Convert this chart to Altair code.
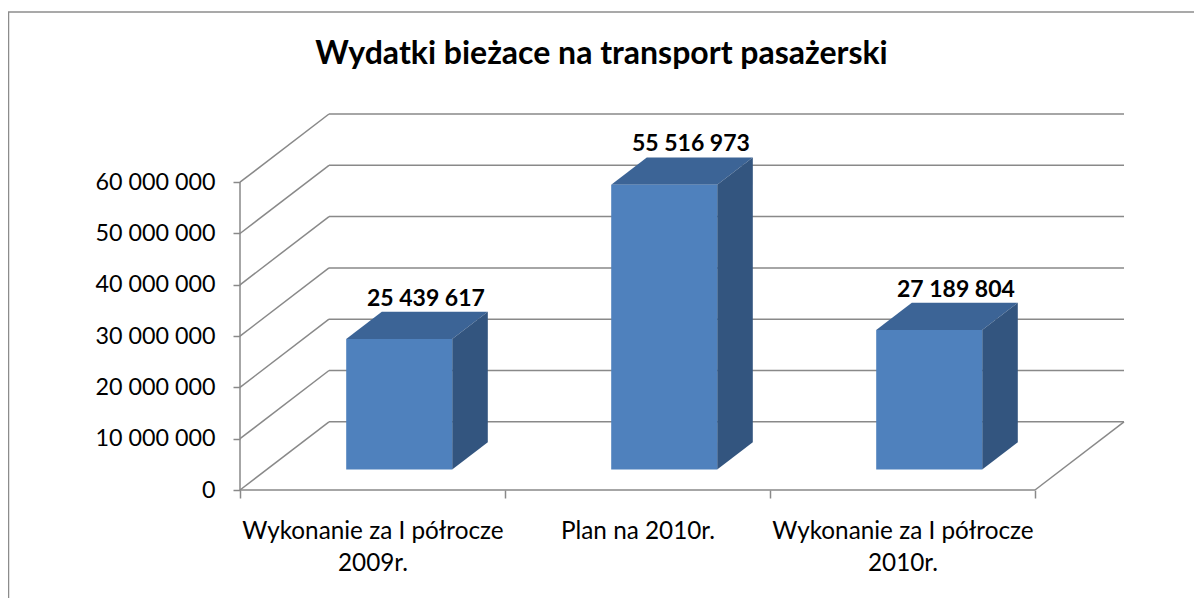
import json
import altair as alt
import pandas as pd

# ---------------- data ----------------
title_text = "Wydatki bieżace na transport pasażerski"
category_lines = [
    ["Wykonanie za I półrocze", "2009r."],
    ["Plan na 2010r."],
    ["Wykonanie za I półrocze", "2010r."],
]
values = [25439617, 55516973, 27189804]
y_ticks = [0, 10000000, 20000000, 30000000, 40000000, 50000000, 60000000]

# ---------------- geometry (oblique 3-D projection) ----------------
W_PX, H_PX = 884, 376          # plot area in pixels
CAT_PX = 265.0                 # width of one category on the front plane
PX_PER_VAL = 307.8 / 60e6      # vertical scale on the front plane
N = len(values)
XMAX = W_PX / CAT_PX
YMAX = H_PX / PX_PER_VAL
DX = XMAX - N                  # depth offset of the back wall (x units)
DY = YMAX - y_ticks[-1]        # depth offset of the back wall (value units)
D1, D2 = 0.30, 0.70            # depth of the bar's front and back faces
HW = 0.2                       # half bar width (category units)
LBL_D = 0.6                    # depth of the value label centre

GRID = "#898989"
FONT = "Lato"

# wire frame: walls, floor, axis line
wire = []
for t in y_ticks:
    wire.append(dict(x=0, y=t, x2=DX, y2=t + DY))
    wire.append(dict(x=DX, y=t + DY, x2=N + DX, y2=t + DY))
wire.append(dict(x=0, y=0, x2=N, y2=0))
wire.append(dict(x=N, y=0, x2=N + DX, y2=DY))
wire.append(dict(x=0, y=0, x2=0, y2=y_ticks[-1]))
wire_df = pd.DataFrame(wire)

front, side, top, labels = [], [], [], []
for i, v in enumerate(values):
    c = i + 0.5
    front.append(dict(cat=i, x=c - HW + D1 * DX, x2=c + HW + D1 * DX, y=D1 * DY, y2=v + D1 * DY))
    for d in (D1, D2):
        side.append(dict(cat=i, x=c + HW + d * DX, y=v + d * DY, y2=d * DY))
        top.append(dict(cat=i, y=v + d * DY, x=c - HW + d * DX, x2=c + HW + d * DX))
    labels.append(dict(cat=i, x=c + LBL_D * DX, y=v + D2 * DY,
                       txt=f"{v:,}".replace(",", " ")))
front_df, side_df, top_df, lab_df = map(pd.DataFrame, (front, side, top, labels))

# ---------------- encodings ----------------
expr = ""
for i, lines in enumerate(category_lines):
    expr += f"datum.value == {i} ? {json.dumps(lines, ensure_ascii=False)} : "
expr += "''"

X = alt.X("x:Q", scale=alt.Scale(domain=[0, XMAX], nice=False, zero=False),
          axis=alt.Axis(values=list(range(N + 1)), domain=False, grid=False,
                        ticks=True, tickSize=8, tickColor=GRID, tickWidth=1.5,
                        labelExpr=expr, labelOffset=CAT_PX / 2, labelFont=FONT,
                        labelFontSize=24.3, labelColor="black", labelPadding=21,
                        labelLineHeight=32, labelFlush=False, labelOverlap=False,
                        labelBound=False, labelLimit=0, title=None))
Y = alt.Y("y:Q", scale=alt.Scale(domain=[0, YMAX], nice=False, zero=False),
          axis=alt.Axis(values=y_ticks, domain=False, grid=False, ticks=True,
                        tickSize=7, tickColor=GRID, tickWidth=1.5,
                        labelExpr="replace(format(datum.value, ','), regexp(',', 'g'), ' ')",
                        labelFont=FONT, labelFontSize=23.3, labelColor="black",
                        labelPadding=18, labelLimit=0, title=None))

wire_layer = alt.Chart(wire_df).mark_rule(color=GRID, strokeWidth=1.5).encode(
    x=X, y=Y, x2="x2:Q", y2="y2:Q")
top_layer = alt.Chart(top_df).mark_area(orient="horizontal", color="#3C6496").encode(
    y=Y, x=X, x2="x2:Q", detail="cat:N")
side_layer = alt.Chart(side_df).mark_area(orient="vertical", color="#33557F").encode(
    x=X, y=Y, y2="y2:Q", detail="cat:N")
front_layer = alt.Chart(front_df).mark_rect(color="#4F81BD").encode(
    x=X, x2="x2:Q", y=Y, y2="y2:Q")
label_layer = alt.Chart(lab_df).mark_text(
    font=FONT, fontSize=23, fontWeight="bold", color="black",
    baseline="alphabetic", align="center", dy=-6).encode(x=X, y=Y, text="txt:N")

border = pd.DataFrame({"k": [0]})
border_left = alt.Chart(border).mark_rule(color="#8C8C8C", strokeWidth=1.5).encode(
    x=alt.value(-231.5), y=alt.value(-102), y2=alt.value(600))
border_top = alt.Chart(border).mark_rule(color="#8C8C8C", strokeWidth=1.5).encode(
    y=alt.value(-102), x=alt.value(-232), x2=alt.value(1000))

chart = alt.layer(
    border_left, border_top, wire_layer, top_layer, side_layer, front_layer, label_layer
).properties(
    width=W_PX, height=H_PX,
    title=alt.TitleParams(text=title_text, font=FONT, fontSize=32, fontWeight="bold",
                          color="black", anchor="middle", frame="group", dx=-80.5,
                          baseline="alphabetic", offset=-84.75),
    autosize=alt.AutoSizeParams(type="none"),
    padding={"left": 232, "top": 106, "right": 70, "bottom": 108},
    background="white",
).configure_view(stroke=None)

chart.save("out.html", embed_options={"renderer": "svg", "actions": False})
